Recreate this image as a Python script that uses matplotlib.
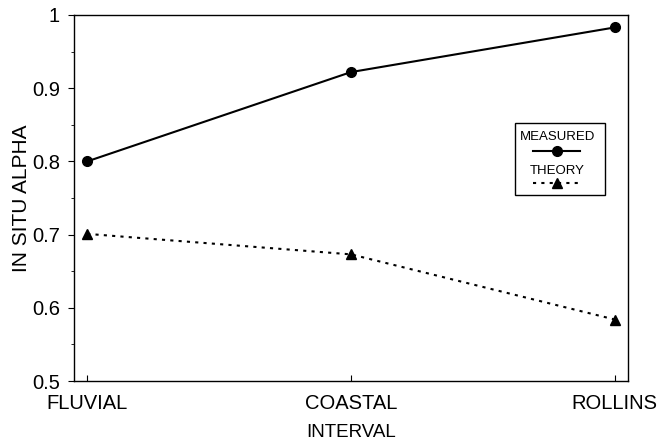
import matplotlib.pyplot as plt
from matplotlib.patches import Rectangle

plt.rcParams['font.family'] = ['Liberation Sans', 'DejaVu Sans']

intervals = ['FLUVIAL', 'COASTAL', 'ROLLINS']
measured = [0.800, 0.922, 0.983]
theory = [0.701, 0.673, 0.584]
yticks = [0.5, 0.6, 0.7, 0.8, 0.9, 1.0]
ytick_labels = ['0.5', '0.6', '0.7', '0.8', '0.9', '1']


def main():
        fig = plt.figure(figsize=(6.69, 4.46), dpi=100)
        ax = fig.add_axes([0.1106, 0.1457, 0.8281, 0.8207])

        x = list(range(len(intervals)))
        ax.plot(x, measured, '-', color='black', lw=1.5, marker='o', ms=7)
        ax.plot(x, theory, color='black', lw=1.5, ls=(0, (1.5, 2.5)),
                marker='^', ms=7)

        ax.set_xlim(-0.05, 2.05)
        ax.set_ylim(0.5, 1.0)
        ax.set_xticks(x)
        ax.set_xticklabels(intervals, fontsize=14.5)
        ax.set_yticks(yticks)
        ax.set_yticklabels(ytick_labels, fontsize=14.5)
        ax.set_yticks([0.55, 0.65, 0.75, 0.85, 0.95], minor=True)
        ax.tick_params(axis='y', direction='out', length=4, pad=6)
        ax.tick_params(axis='y', which='minor', length=2)
        ax.tick_params(axis='x', direction='in', length=4, pad=9)
        ax.set_xlabel('INTERVAL', fontsize=13.5, labelpad=8)
        ax.set_ylabel('IN SITU ALPHA', fontsize=15, labelpad=1)
        for s in ax.spines.values():
                s.set_linewidth(1.0)

        # Legend box drawn by hand: label above each line sample
        tr = ax.transAxes
        ax.add_patch(Rectangle((0.796, 0.508), 0.162, 0.197, transform=tr,
                               fill=False, lw=1.0, color='black'))
        ax.text(0.872, 0.668, 'MEASURED', transform=tr, ha='center',
                va='center', fontsize=9.5)
        ax.plot([0.8285, 0.913], [0.628, 0.628], '-', color='black', lw=1.5,
                transform=tr)
        ax.plot([0.872], [0.628], 'o', color='black', ms=7, transform=tr)
        ax.text(0.872, 0.573, 'THEORY', transform=tr, ha='center',
                va='center', fontsize=9.5)
        ax.plot([0.8285, 0.913], [0.541, 0.541], color='black', lw=1.5,
                ls=(0, (1.5, 2.5)), transform=tr)
        ax.plot([0.872], [0.541], '^', color='black', ms=7, transform=tr)

        fig.savefig('out.png', dpi=100)


if __name__ == "__main__":
   main()
